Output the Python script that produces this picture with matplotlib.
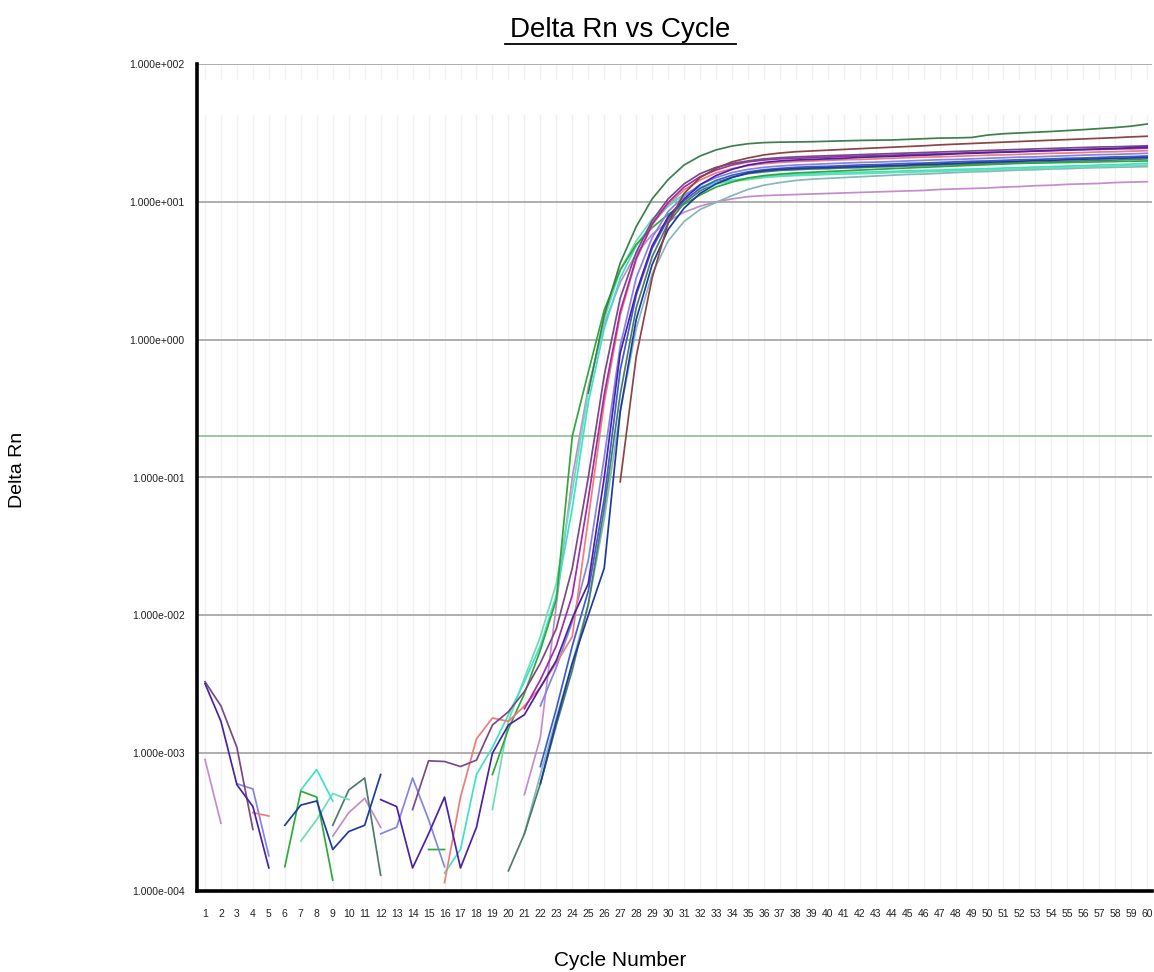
import numpy as np
import matplotlib
matplotlib.use('Agg')
import matplotlib.pyplot as plt
from matplotlib.lines import Line2D

plt.rcParams['font.family'] = ['Liberation Sans', 'DejaVu Sans']

cycles = np.arange(1, 61)
threshold = 0.2

# each well is a list of (first cycle, values) segments; gaps are where Delta Rn <= 0
dkgreen = [(25, [0.41, 1.5, 3.6, 6.6, 10.5, 14.5, 18.5, 21.5, 23.8, 25.4, 26.4,
                 26.9, 27.1, 27.2, 27.3, 27.5, 27.7, 27.9, 28.0, 28.1, 28.4, 28.7, 29.0, 29.1,
                 29.3, 30.5, 31.2, 31.6, 32.0, 32.4, 32.9, 33.4, 34.0, 34.6, 35.4, 36.7])]
brown = [(27, [0.093, 0.75, 2.8, 7.0, 11.5, 15.0, 17.5, 19.5, 20.8,
               21.9, 22.6, 23.1, 23.4, 23.7, 24.0, 24.3, 24.6, 24.9, 25.2, 25.5, 25.9, 26.2,
               26.5, 26.8, 27.1, 27.4, 27.7, 28.0, 28.3, 28.6, 28.9, 29.2, 29.6, 29.9])]
indigo = [(1, [0.0032, 0.0017, 0.00059, 0.00041, 0.000147]),
          (12, [0.00046, 0.00041, 0.000147, 0.00026, 0.00048, 0.000147, 0.00029, 0.001,
                0.0016, 0.0019, 0.003, 0.0047, 0.0095, 0.017, 0.1, 0.8, 2.2, 4.8, 7.8, 10.5,
                13.3, 15.5, 17.2, 18.5,
                19.3, 19.8, 20.1, 20.3, 20.5, 20.7, 21.0, 21.2, 21.4, 21.6, 21.8, 22.0, 22.3,
                22.5, 22.7, 22.9, 23.1, 23.3, 23.6, 23.8, 24.0, 24.2, 24.4, 24.7, 25.0])]
mauve = [(1, [0.0033, 0.0022, 0.0011, 0.00028]),
         (14, [0.00039, 0.00088, 0.00087, 0.0008, 0.00089, 0.0016, 0.002, 0.0028, 0.0045,
               0.008, 0.022, 0.1, 0.55, 2.0, 4.3, 7.3, 10.5, 13.5, 16.0, 17.8, 19.0, 19.8,
               20.5, 20.9, 21.2, 21.4, 21.6, 21.8, 22.0, 22.2, 22.4, 22.6, 22.8, 23.0, 23.2,
               23.4, 23.6, 23.8, 24.0, 24.2, 24.4, 24.6, 24.8, 25.0, 25.1, 25.3, 25.5])]
magenta = [(21, [0.0021, 0.0034, 0.006, 0.014, 0.07, 0.4, 1.6, 3.9, 6.9, 9.9, 12.8, 15.2,
                 17.0, 18.5, 19.5,
                 20.1, 20.5, 20.7, 20.9, 21.1, 21.3, 21.5, 21.6, 21.8, 22.0, 22.2, 22.3, 22.5,
                 22.7, 22.9, 23.0, 23.2, 23.4, 23.5, 23.7, 23.9, 24.0, 24.2, 24.3, 24.5])]
salmon = [(4, [0.00037, 0.00035]),
          (16, [0.000115, 0.00048, 0.00127, 0.0018, 0.0017, 0.0022, 0.003, 0.0045, 0.007,
                0.05, 0.35, 1.5, 3.8, 6.8, 9.6, 12.2, 14.4, 16.2, 17.4, 18.3,
                18.9, 19.3, 19.6, 19.8, 20.0, 20.2, 20.3, 20.5, 20.7, 20.9, 21.1, 21.2, 21.4,
                21.6, 21.8, 21.9, 22.1, 22.3, 22.5, 22.6, 22.8, 23.0, 23.1, 23.3, 23.5])]
dkblue = [(6, [0.0003, 0.00042, 0.00045, 0.0002, 0.00027, 0.0003, 0.0007]),
          (22, [0.0006, 0.0017, 0.0045, 0.01, 0.022, 0.3, 1.4, 3.5, 6.3, 9.0, 11.5, 13.5,
                15.0, 16.2,
                16.8, 17.2, 17.4, 17.6, 17.7, 17.9, 18.0, 18.2, 18.3, 18.5, 18.7, 18.8, 19.0,
                19.2, 19.4, 19.5, 19.7, 19.9, 20.0, 20.2, 20.4, 20.5, 20.7, 20.8, 21.0])]
royalblue = [(22, [0.0008, 0.0021, 0.006, 0.015, 0.07, 0.6, 2.1, 4.6, 7.5, 10.2, 12.5, 14.3,
                   15.6, 16.5,
                   17.1, 17.5, 17.8, 18.0, 18.1, 18.3, 18.5, 18.6, 18.8, 19.0, 19.1, 19.3,
                   19.5, 19.7, 19.8, 20.0, 20.2, 20.3, 20.5, 20.7, 20.8, 21.0, 21.2, 21.3, 21.5])]
cornflower = [(3, [0.0006, 0.00055, 0.00018]),
              (12, [0.00026, 0.00029, 0.00066, 0.00033, 0.00015]),
              (22, [0.0022, 0.0042, 0.009, 0.025, 0.14, 0.9, 2.8, 5.5, 8.5, 11.0, 13.3, 15.0,
                    16.3, 17.2,
                    17.8, 18.2, 18.5, 18.7, 18.9, 19.1, 19.3, 19.4, 19.6, 19.8, 20.0, 20.2,
                    20.3, 20.5, 20.7, 20.9, 21.1, 21.2, 21.4, 21.6, 21.8, 22.0, 22.1, 22.3, 22.5])]
slate = [(9, [0.0003, 0.00054, 0.00066, 0.00013]),
         (20, [0.00014, 0.00026, 0.0006, 0.0016, 0.004, 0.012, 0.06, 0.4, 1.7, 4.0, 7.0, 9.8,
               12.0, 13.8, 15.1, 16.0,
               16.5, 16.9, 17.1, 17.3, 17.4, 17.6, 17.7, 17.9, 18.0, 18.2, 18.3, 18.5, 18.6,
               18.8, 18.9, 19.1, 19.2, 19.4, 19.5, 19.7, 19.8, 20.0, 20.1, 20.3, 20.5])]
green = [(6, [0.00015, 0.00053, 0.00048, 0.00012]),
         (15, [0.0002, 0.0002]),
         (19, [0.0007, 0.0015, 0.0027, 0.0056, 0.013, 0.2, 0.58, 1.64, 3.2, 4.9, 6.5, 8.1,
               9.6, 11.2, 12.8, 13.9, 14.9,
               15.5, 15.9, 16.2, 16.4, 16.6, 16.8, 17.0, 17.2, 17.4, 17.6, 17.8, 18.0, 18.2,
               18.4, 18.6, 18.8, 19.0, 19.1, 19.2, 19.3, 19.4, 19.5, 19.6, 19.7, 19.8])]
turquoise = [(7, [0.00054, 0.00076, 0.00045]),
             (16, [0.000135, 0.0002, 0.0007, 0.0011, 0.0019, 0.0033, 0.006, 0.014, 0.06, 0.35,
                   1.2, 2.8, 4.8, 7.0, 9.3, 11.3, 12.8, 13.8, 14.4, 14.8,
                   15.3, 15.6, 15.8, 16.0, 16.1, 16.3, 16.4, 16.5, 16.6, 16.8, 16.9, 17.0,
                   17.2, 17.3, 17.4, 17.6, 17.7, 17.9, 18.0, 18.2, 18.3, 18.5, 18.6, 18.8, 19.0])]
aquamarine = [(7, [0.00023, 0.00033, 0.00051, 0.00046]),
              (19, [0.00039, 0.0017, 0.0035, 0.007, 0.017, 0.08, 0.42, 1.4, 3.2, 5.2, 7.5, 9.6,
                    11.3, 12.6, 13.5, 14.1, 14.5,
                    15.0, 15.3, 15.5, 15.6, 15.8, 15.9, 16.0, 16.1, 16.3, 16.4, 16.5, 16.6,
                    16.8, 16.9, 17.0, 17.2, 17.3, 17.5, 17.6, 17.8, 17.9, 18.0, 18.2, 18.3, 18.5])]
cadet = [(21, [0.00026, 0.0007, 0.0018, 0.0045, 0.012, 0.05, 0.3, 1.2, 3.0, 5.2, 7.2, 8.8,
               9.9, 11.1, 12.3,
               13.2, 13.8, 14.3, 14.6, 14.8, 15.0, 15.2, 15.4, 15.6, 15.8, 15.9, 16.1, 16.3,
               16.5, 16.6, 16.8, 17.0, 17.1, 17.3, 17.4, 17.6, 17.7, 17.8, 17.9, 18.0])]
lilac = [(1, [0.0009, 0.00031]),
         (9, [0.00025, 0.00037, 0.00047, 0.00029]),
         (21, [0.0005, 0.0013, 0.012, 0.1, 0.45, 1.3, 2.6, 4.2, 5.8, 7.2, 8.4, 9.3, 10.0,
               10.5, 10.9,
               11.1, 11.2, 11.3, 11.4, 11.5, 11.6, 11.7, 11.8, 11.9, 12.0, 12.1, 12.3, 12.4,
               12.5, 12.6, 12.8, 12.9, 13.1, 13.2, 13.4, 13.5, 13.6, 13.8, 13.9, 14.0])]

wells = [
    (lilac, '#c48ccc'),
    (cadet, '#86b8b8'),
    (slate, '#4c7c6c'),
    (aquamarine, '#6edcb4'),
    (turquoise, '#3ee2c8'),
    (green, '#2eaa3a'),
    (cornflower, '#8484e6'),
    (royalblue, '#3c5cd0'),
    (dkblue, '#1e3c9c'),
    (salmon, '#f07c78'),
    (magenta, '#a02cac'),
    (mauve, '#7a4a84'),
    (indigo, '#4a22a8'),
    (brown, '#8c4444'),
    (dkgreen, '#3f7f4f'),
]


def build_series(segments):
    y = np.full(len(cycles), np.nan)
    for start, vals in segments:
        y[start - 1:start - 1 + len(vals)] = vals
    return y


def sci_label(v):
    exp = int(round(np.log10(v)))
    return "1.000e{}{:03d}".format('+' if exp >= 0 else '-', abs(exp))


fig = plt.figure(figsize=(11.54, 9.72), dpi=100)
ax = fig.add_axes([197 / 1154, 81 / 972, 955 / 1154, 827 / 972])

ax.set_yscale('log')
ax.set_ylim(1e-4, 1e2)
ax.set_xlim(0.5, 60.3)

# faint vertical grid at every cycle, gray lines at each decade
for c in cycles:
    ax.axvline(c, color='#f1f1f1', lw=1.0, zorder=0.5)
for v in [1e-3, 1e-2, 1e-1, 1e0, 1e1, 1e2]:
    ax.axhline(v, color='#a8a8a8', lw=1.3, zorder=0.8)
# blank band near the top where the instrument export drops the grid
ax.axhspan(42.7, 76.0, color='white', lw=0, zorder=0.7)

ax.axhline(threshold, color='#8cc08c', lw=1.2, zorder=1)

for segments, color in wells:
    ax.plot(cycles, build_series(segments), color=color, lw=1.25, zorder=2)

ax.set_xticks(cycles)
ax.set_xticklabels([str(c) for c in cycles], fontsize=7.5, color='#222222')
decades = [1e-4, 1e-3, 1e-2, 1e-1, 1e0, 1e1, 1e2]
ax.set_yticks(decades)
ax.set_yticklabels([sci_label(v) for v in decades], fontsize=7.5, color='#222222')
ax.yaxis.set_minor_locator(matplotlib.ticker.NullLocator())
ax.tick_params(axis='both', length=0)
ax.tick_params(axis='x', pad=13)
ax.tick_params(axis='y', pad=9)

for side in ['top', 'right']:
    ax.spines[side].set_visible(False)
for side in ['left', 'bottom']:
    ax.spines[side].set_linewidth(2.6)
    ax.spines[side].set_color('black')

fig.text(620 / 1154, 1 - 30 / 972, 'Delta Rn vs Cycle', ha='center', va='center',
         fontsize=20, color='black')
fig.add_artist(Line2D([505 / 1154, 736 / 1154], [1 - 44 / 972, 1 - 44 / 972],
                      color='black', lw=1.3))
fig.text(620 / 1154, 1 - 960 / 972, 'Cycle Number', ha='center', va='center',
         fontsize=15, color='black')
fig.text(18 / 1154, 1 - 470 / 972, 'Delta Rn', ha='center', va='center',
         rotation=90, fontsize=14, color='black')

plt.savefig('out.png', dpi=100)
